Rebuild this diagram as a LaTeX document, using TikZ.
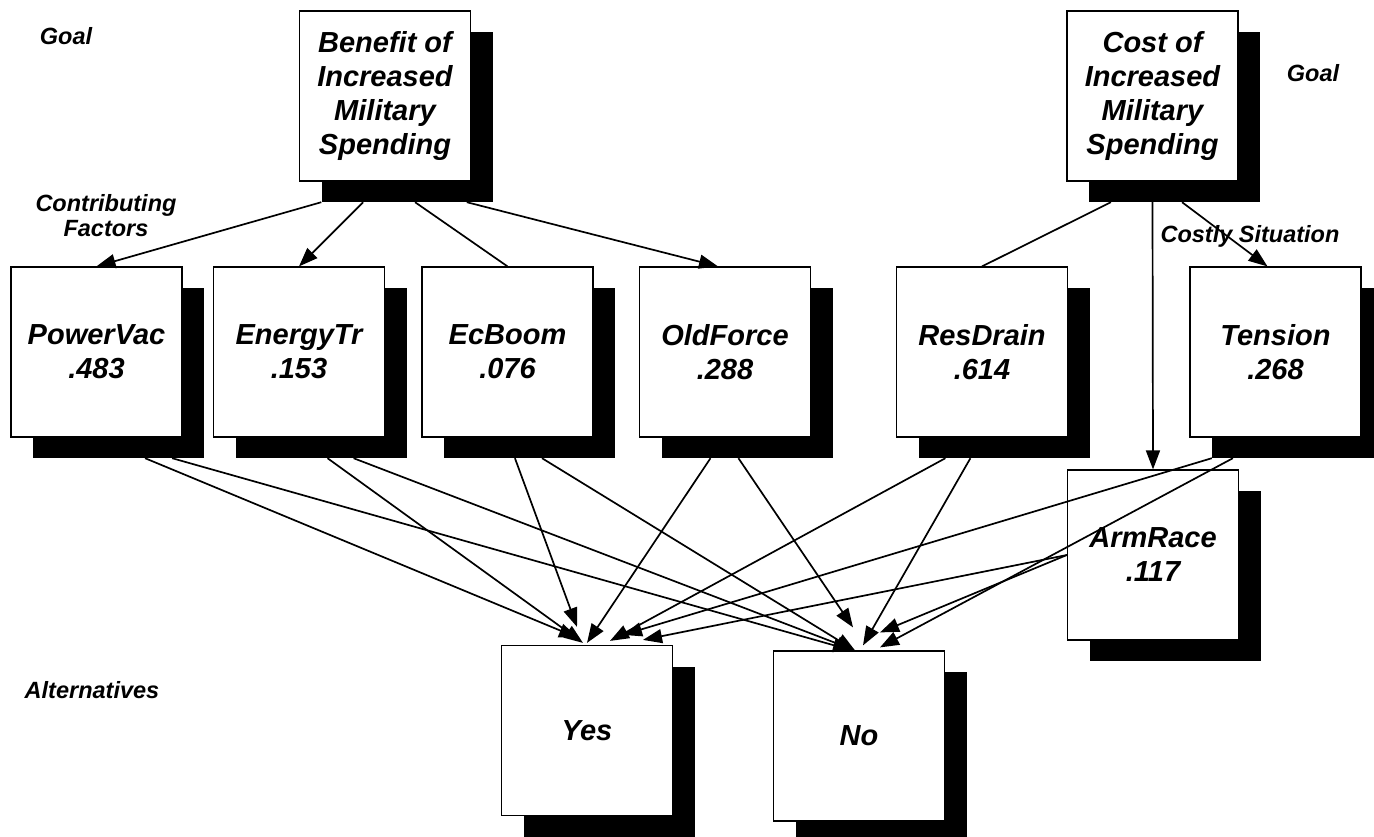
\documentclass[tikz,border=0pt]{standalone}
\usepackage{fontspec}
\setmainfont{Liberation Sans}
\usetikzlibrary{calc,arrows.meta}

\begin{document}
\begin{tikzpicture}[x=1pt,y=-1pt,
    shadownode/.style={fill=black,minimum width=171pt,minimum height=170pt,inner sep=0pt},
    boxnode/.style={draw,line width=1.2pt,fill=white,minimum width=171pt,minimum height=170pt,inner sep=0pt,align=center,font=\fontsize{29}{34}\selectfont\bfseries\itshape},
    lbl/.style={align=center,font=\fontsize{23.5}{25}\selectfont\bfseries\itshape},
    link/.style={line width=1.7pt},
    arr/.style={link,-{Triangle[length=19pt,width=14pt]}}]
    \useasboundingbox (0,0) rectangle (1374,837);
    \node[shadownode] (benefit sh) at (407,117) {};
    \node[shadownode] (cost sh) at (1174.5,117) {};
    \node[shadownode] (powervac sh) at (118.5,373) {};
    \node[shadownode] (energytr sh) at (321,373) {};
    \node[shadownode] (ecboom sh) at (529.5,373) {};
    \node[shadownode] (oldforce sh) at (747,373) {};
    \node[shadownode] (resdrain sh) at (1004,373) {};
    \node[shadownode] (tension sh) at (1297.5,373) {};
    \node[shadownode] (armrace sh) at (1175,576) {};
    \node[shadownode] (yes sh) at (609,751.5) {};
    \node[shadownode] (no sh) at (881,757) {};
    \node[boxnode] (benefit) at (385,96) {Benefit of\\Increased\\Military\\Spending};
    \node[boxnode] (cost) at (1152.5,96) {Cost of\\Increased\\Military\\Spending};
    \node[boxnode] (powervac) at (96.5,352) {PowerVac\\.483};
    \node[boxnode] (energytr) at (299,352) {EnergyTr\\.153};
    \node[boxnode] (ecboom) at (507.5,352) {EcBoom\\.076};
    \node[boxnode] (oldforce) at (725,352) {OldForce\\.288};
    \node[boxnode] (resdrain) at (982,352) {ResDrain\\.614};
    \node[boxnode] (tension) at (1275.5,352) {Tension\\.268};
    \node[boxnode] (armrace) at (1153,555) {ArmRace\\.117};
    \node[boxnode] (yes) at (587,730.5) {Yes};
    \node[boxnode] (no) at (859,736) {No};
    \node[lbl] (goal left) at (66,36) {Goal};
    \node[lbl] (goal right) at (1313,73) {Goal};
    \node[lbl] (factors) at (106,216) {Contributing\\Factors};
    \node[lbl] (costly) at (1250,236) {Costly Situation};
    \node[lbl] (alternatives) at (92,690) {Alternatives};
    \draw[arr] (benefit sh.south west) -- (powervac.north);
    \draw[arr] ($(benefit sh.south west)!.244!(benefit sh.south east)$) -- (energytr.north);
    \draw[link] ($(benefit sh.south west)!.547!(benefit sh.south east)$) -- (ecboom.north);
    \draw[arr] ($(benefit sh.south west)!.849!(benefit sh.south east)$) -- ([xshift=-7pt]oldforce.north);
    \draw[link] ($(cost sh.south west)!.129!(cost sh.south east)$) -- (resdrain.north);
    \draw[arr] (cost.south |- cost sh.south) -- (armrace.north);
    \draw[arr] ($(cost sh.south west)!.544!(cost sh.south east)$) -- ([xshift=-8pt]tension.north);
    \draw[arr] ($(powervac sh.south west)!.655!(powervac sh.south east)$) -- ([xshift=-9pt,yshift=7pt]yes.north);
    \draw[arr] ($(powervac sh.south west)!.813!(powervac sh.south east)$) -- ([xshift=-7pt]no.north);
    \draw[arr] ($(energytr sh.south west)!.538!(energytr sh.south east)$) -- ([xshift=-4pt,yshift=2pt]yes.north);
    \draw[arr] ($(energytr sh.south west)!.690!(energytr sh.south east)$) -- ([xshift=-4pt]no.north);
    \draw[arr] ($(ecboom sh.south west)!.415!(ecboom sh.south east)$) -- ([xshift=-10pt,yshift=18pt]yes.north);
    \draw[arr] ($(ecboom sh.south west)!.573!(ecboom sh.south east)$) -- ([xshift=-4pt]no.north);
    \draw[arr] ($(oldforce sh.south west)!.287!(oldforce sh.south east)$) -- ([yshift=2pt]yes.north);
    \draw[arr] ($(oldforce sh.south west)!.450!(oldforce sh.south east)$) -- ([xshift=-6pt,yshift=23pt]no.north);
    \draw[arr] ($(resdrain sh.south west)!.158!(resdrain sh.south east)$) -- ([xshift=23pt,yshift=4pt]yes.north);
    \draw[arr] ($(resdrain sh.south west)!.304!(resdrain sh.south east)$) -- ([xshift=4pt,yshift=5pt]no.north);
    \draw[arr] (tension sh.south west) -- ([xshift=36pt,yshift=10pt]yes.north);
    \draw[arr] ($(tension sh.south west)!.123!(tension sh.south east)$) -- ([xshift=21pt,yshift=3pt]no.north);
    \draw[arr] (armrace.west) -- ([xshift=56pt,yshift=5pt]yes.north);
    \draw[arr] (armrace.west) -- ([xshift=21pt,yshift=18pt]no.north);
\end{tikzpicture}
\end{document}
